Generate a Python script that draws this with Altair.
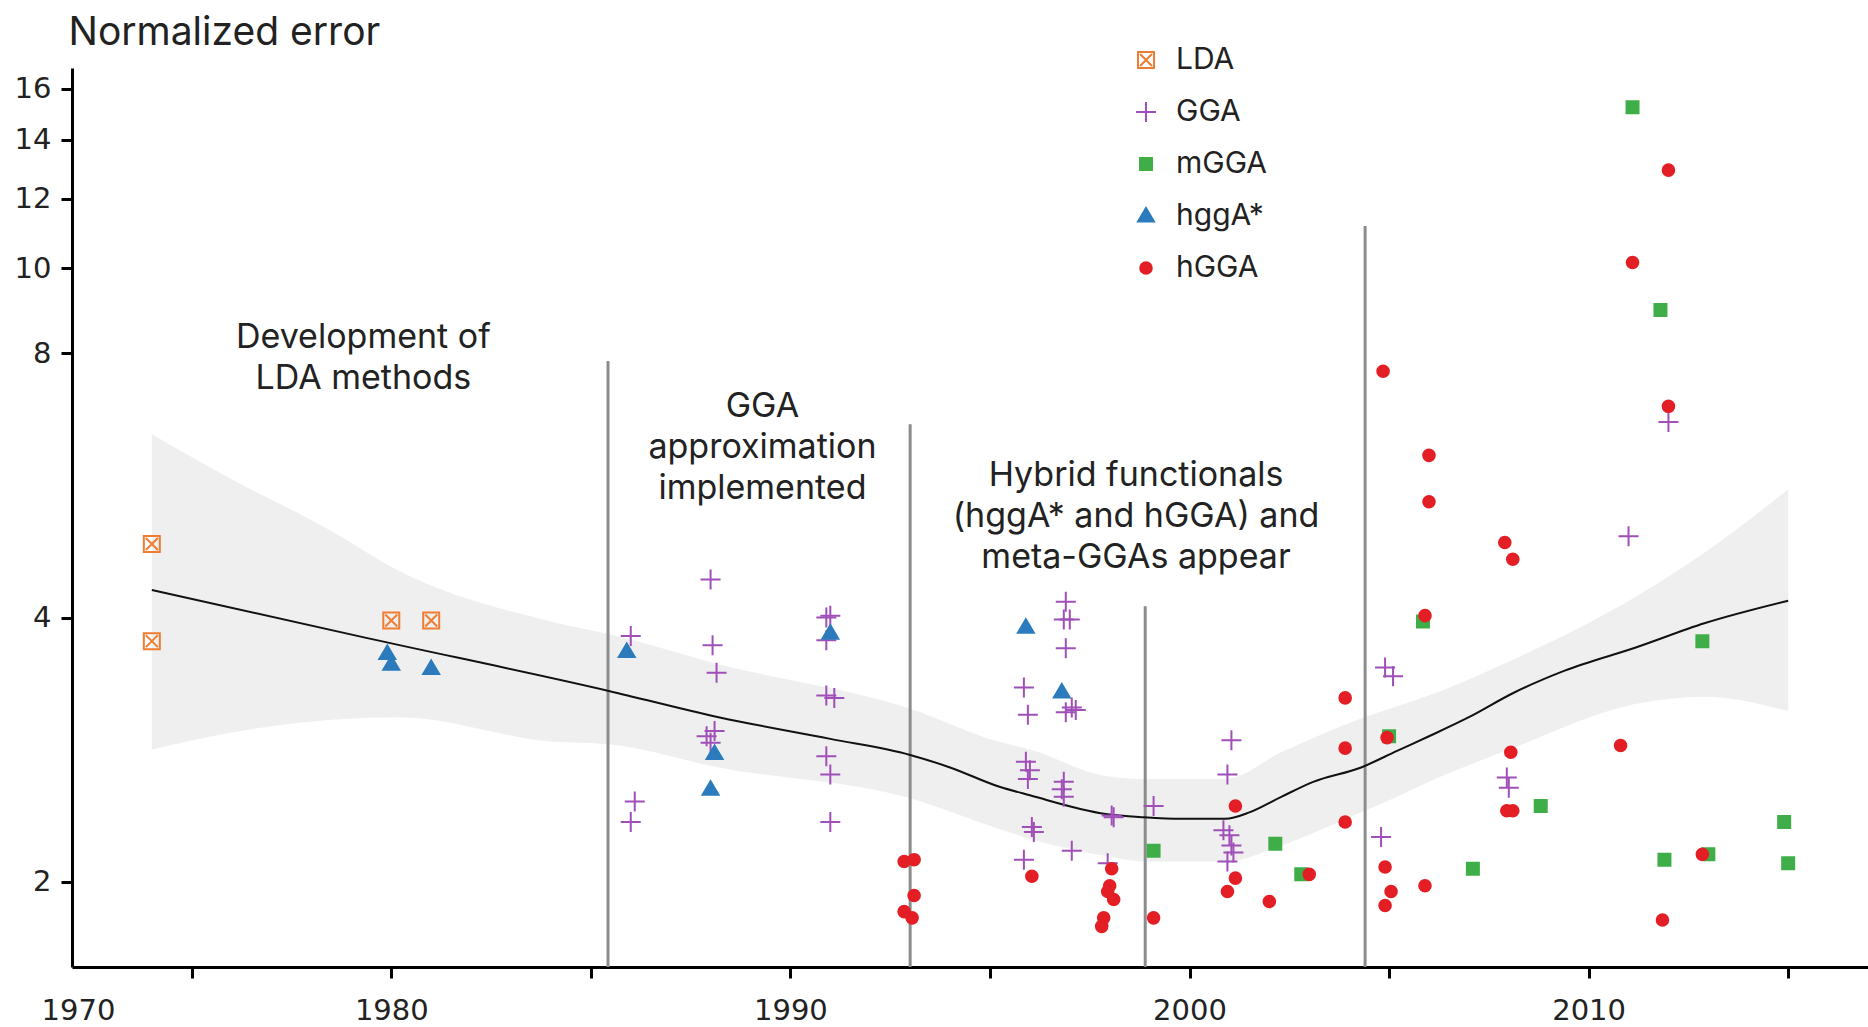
import altair as alt
import pandas as pd

# ---- measured errors per functional family (publication year, normalized error) ----
lda_year = [1974.0, 1974.0, 1980.0, 1981.0]
lda_err = [4.85, 3.76, 3.97, 3.97]

gga_year = [1986.0, 1986.1, 1986.0, 1988.0, 1988.05, 1988.15, 1988.1, 1987.9, 1988.0,
            1990.9, 1991.0, 1990.9, 1990.9, 1991.1, 1990.9, 1991.0, 1991.0,
            1996.9, 1996.85, 1997.0, 1996.9, 1995.85, 1995.95, 1996.9, 1997.05, 1997.15,
            1995.9, 1996.0, 1995.95, 1996.85, 1996.8, 1996.85, 1996.05, 1996.1, 1995.85,
            1997.05, 1998.05, 1998.1, 1997.95, 1999.1,
            2001.05, 2000.95, 2000.85, 2001.0, 2001.05, 2001.1, 2000.95,
            2004.9, 2005.1, 2004.8, 2007.95, 2008.0, 2011.0, 2012.0]
gga_err = [3.81, 2.47, 2.34, 4.42, 3.72, 3.46, 2.97, 2.93, 2.88,
           4.00, 4.02, 3.77, 3.26, 3.24, 2.78, 2.65, 2.34,
           4.17, 3.98, 3.98, 3.69, 3.33, 3.10, 3.12, 3.16, 3.14,
           2.74, 2.68, 2.62, 2.60, 2.55, 2.50, 2.31, 2.28, 2.12,
           2.17, 2.38, 2.37, 2.10, 2.44,
           2.90, 2.65, 2.29, 2.26, 2.20, 2.16, 2.11,
           3.51, 3.43, 2.25, 2.63, 2.56, 4.95, 6.68]

mgga_year = [1999.1, 2002.15, 2002.8, 2005.0, 2005.85, 2007.1, 2008.8,
             2011.1, 2011.8, 2011.9, 2012.85, 2013.0, 2014.9, 2015.0]
mgga_err = [2.17, 2.21, 2.04, 2.93, 3.96, 2.07, 2.44,
            15.25, 8.96, 2.12, 3.76, 2.15, 2.34, 2.10]

hggastar_year = [1979.9, 1980.0, 1981.0, 1985.9, 1988.1, 1988.0, 1991.0, 1995.9, 1996.8]
hggastar_err = [3.64, 3.54, 3.50, 3.66, 2.80, 2.55, 3.84, 3.90, 3.29]

hgga_year = [1992.85, 1993.1, 1993.1, 1992.85, 1993.05,
             1996.05, 1998.05, 1998.0, 1997.95, 1998.1, 1997.85, 1997.8, 1999.1,
             2001.15, 2001.15, 2000.95, 2002.0, 2003.0,
             2003.9, 2003.9, 2003.9, 2004.95, 2004.9, 2005.05, 2004.9, 2004.85,
             2006.0, 2006.0, 2005.9, 2005.9,
             2007.9, 2008.1, 2008.05, 2007.95, 2008.1,
             2010.8, 2011.85, 2012.85, 2012.0, 2011.1, 2012.0]
hgga_err = [2.11, 2.12, 1.93, 1.85, 1.82,
            2.03, 2.07, 1.98, 1.95, 1.91, 1.82, 1.78, 1.82,
            2.44, 2.02, 1.95, 1.90, 2.04,
            3.24, 2.84, 2.34, 2.92, 2.08, 1.95, 1.88, 7.63,
            6.12, 5.42, 4.02, 1.98,
            4.87, 4.66, 2.81, 2.41, 2.41,
            2.86, 1.81, 2.15, 12.93, 10.15, 6.96]

# ---- smoothed trend and its confidence band ----
fit_year = [1974.0, 1979.4, 1985.45, 1988.2, 1991.0, 1993.0, 1994.0, 1995.2, 1996.0,
            1997.9, 1998.85, 1999.8, 2000.9, 2001.5, 2002.3, 2003.1, 2004.3, 2005.2,
            2006.0, 2007.0, 2008.1, 2009.4, 2011.2, 2012.9, 2015.0]
fit_err = [4.30, 3.79, 3.30, 3.08, 2.91, 2.79, 2.70, 2.57, 2.51,
           2.39, 2.37, 2.36, 2.36, 2.40, 2.50, 2.60, 2.70, 2.82,
           2.93, 3.08, 3.28, 3.48, 3.70, 3.94, 4.18]

band_year = [1974.0, 1976.0, 1978.5, 1980.2, 1984.0, 1985.45, 1988.2, 1993.0, 1995.2,
             1996.0, 1997.9, 1998.85, 2000.9, 2002.3, 2004.3, 2005.2, 2006.0, 2008.1,
             2011.2, 2012.9, 2015.0]
band_low = [2.83, 2.96, 3.06, 3.08, 2.89, 2.87, 2.70, 2.49, 2.30,
            2.24, 2.14, 2.11, 2.11, 2.20, 2.40, 2.50, 2.60, 2.84,
            3.19, 3.25, 3.13]
band_high = [6.47, 5.75, 5.02, 4.52, 3.96, 3.83, 3.54, 3.15, 2.89,
             2.83, 2.64, 2.62, 2.62, 2.81, 3.07, 3.17, 3.26, 3.58,
             4.23, 4.74, 5.60]

# ---- era separators and their labels ----
sep_year = [1985.43, 1993.0, 1998.89, 2004.4]
sep_top = [7.84, 6.64, 4.12, 11.17]

note_text = ["Development of\nLDA methods",
             "GGA\napproximation\nimplemented",
             "Hybrid functionals\n(hggA* and hGGA) and\nmeta-GGAs appear"]
note_year = [1979.3, 1989.3, 1998.66]
note_err = [8.32, 6.94, 5.80]   # anchor of each note's first line

families = ["LDA", "GGA", "mGGA", "hggA*", "hGGA"]
edge_colors = ["#ef7d31", "#a04fb8", "#3fae49", "#2b7bbd", "#e31e24"]
fill_colors = ["transparent", "transparent", "#3fae49", "#2b7bbd", "#e31e24"]

# symbol outlines in units of 10 px (mark size 400)
boxed_x = "M-0.8,-0.8L0.8,-0.8L0.8,0.8L-0.8,0.8Z M-0.6,-0.6L0.6,0.6 M0.6,-0.6L-0.6,0.6"
plus = "M-1,0L1,0 M0,-1L0,1"
square = "M-0.6,-0.6L0.6,-0.6L0.6,0.6L-0.6,0.6Z"
triangle = "M0,-0.8L0.8,0.55L-0.8,0.55Z"
circle = "M0.58,0A0.58,0.58 0 1,1 -0.58,0A0.58,0.58 0 1,1 0.58,0Z"
shapes = [boxed_x, plus, square, triangle, circle]

Y_MIN, Y_MAX = 1.6, 16.9
FONT = "Inter"
TICK_FONT = "DejaVu Sans"

rows = []
for fam, ys, es in [("LDA", lda_year, lda_err), ("GGA", gga_year, gga_err),
                    ("mGGA", mgga_year, mgga_err), ("hggA*", hggastar_year, hggastar_err),
                    ("hGGA", hgga_year, hgga_err)]:
    rows += [{"year": y, "err": e, "family": fam} for y, e in zip(ys, es)]
points = pd.DataFrame(rows)

fit = pd.DataFrame({"year": fit_year, "err": fit_err})
band = pd.DataFrame({"year": band_year, "low": band_low, "high": band_high})
seps = pd.DataFrame({"year": sep_year, "top": sep_top, "base": [Y_MIN] * len(sep_year)})
notes = pd.DataFrame({"year": note_year, "err": note_err, "text": note_text})

x_scale = alt.Scale(domain=[1972, 2017], nice=False, zero=False)
y_scale = alt.Scale(type="log", domain=[Y_MIN, Y_MAX], nice=False)

# the first entry carries the "1970" label at the left end of the axis (its tick is hidden)
x_axis = alt.Axis(
    values=[1972.15, 1975, 1980, 1985, 1990, 1995, 2000, 2005, 2010, 2015],
    labelExpr="datum.value < 1973 ? '1970' : (datum.value % 10 == 0 ? format(datum.value, 'd') : '')",
    labelFlush=False, labelOverlap=False, labelPadding=18,
    tickOpacity=alt.condition("datum.value < 1973", alt.value(0), alt.value(1)),
    title=None,
)
y_axis = alt.Axis(
    values=[2, 4, 8, 10, 12, 14, 16], format="d", labelPadding=10,
    title="Normalized error", titleAngle=0, titleAlign="left",
    titleBaseline="alphabetic", titleX=-4, titleY=-24,
    titleFontSize=39, titleFontWeight="normal", titleFont=FONT, titleColor="#222222",
)

X = alt.X("year:Q", scale=x_scale, axis=x_axis)

band_layer = alt.Chart(band).mark_area(
    color="#efefef", opacity=1, interpolate="monotone"
).encode(x=X, y=alt.Y("low:Q", scale=y_scale, axis=y_axis), y2="high:Q")

sep_layer = alt.Chart(seps).mark_rule(color="#8c8c8c", strokeWidth=3).encode(
    x="year:Q", y=alt.Y("top:Q", scale=y_scale), y2="base:Q"
)

fit_layer = alt.Chart(fit).mark_line(
    color="#111111", strokeWidth=2, interpolate="monotone"
).encode(x="year:Q", y=alt.Y("err:Q", scale=y_scale))

legend = alt.Legend(
    title=None, orient="none", legendX=1059, legendY=-23,
    labelFont=FONT, labelFontSize=30, labelColor="#222222",
    labelOffset=15, rowPadding=22, symbolStrokeWidth=2, symbolSize=400, padding=0,
)

point_layer = alt.Chart(points).mark_point(
    opacity=1, strokeWidth=2, fillOpacity=1, size=400
).encode(
    x="year:Q",
    y=alt.Y("err:Q", scale=y_scale),
    shape=alt.Shape("family:N", scale=alt.Scale(domain=families, range=shapes), legend=legend),
    stroke=alt.Stroke("family:N", scale=alt.Scale(domain=families, range=edge_colors), legend=legend),
    fill=alt.Fill("family:N", scale=alt.Scale(domain=families, range=fill_colors), legend=legend),
)

note_layer = alt.Chart(notes).mark_text(
    font=FONT, fontSize=34, lineHeight=41, align="center", baseline="middle",
    color="#222222", lineBreak="\n",
).encode(x="year:Q", y=alt.Y("err:Q", scale=y_scale), text="text:N")

chart = alt.layer(band_layer, sep_layer, fit_layer, point_layer, note_layer).properties(
    width=1796, height=899, background="white",
    autosize=alt.AutoSizeParams(type="none"),
    padding={"left": 72, "top": 68, "right": 0, "bottom": 60},
).configure_view(stroke=None).configure_axis(
    grid=False, domainColor="#000000", domainWidth=3, tickColor="#000000",
    tickWidth=3, tickSize=11, labelFont=TICK_FONT, labelFontSize=29, labelColor="#222222",
)

chart.save("out.html", embed_options={"renderer": "svg", "actions": False})
